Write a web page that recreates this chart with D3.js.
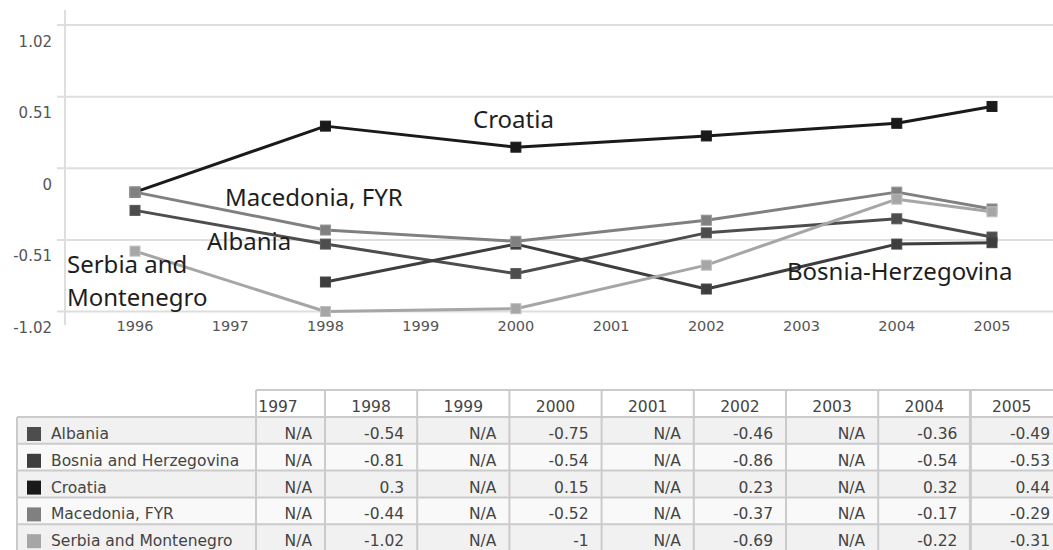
<!DOCTYPE html>
<html>
<head>
<meta charset="utf-8">
<script src="https://cdn.jsdelivr.net/npm/d3@7"></script>
<style>
  html, body { margin: 0; padding: 0; background: #fff; }
  svg { display: block; }
</style>
</head>
<body>
<svg id="chart" width="1053" height="550"></svg>
<script>
// ---- data ----
const years = [1996, 1997, 1998, 1999, 2000, 2001, 2002, 2003, 2004, 2005];
const countries = ["Albania", "Bosnia and Herzegovina", "Croatia", "Macedonia, FYR", "Serbia and Montenegro"];
const albania   = [-0.30, null, -0.54, null, -0.75, null, -0.46, null, -0.36, -0.49];
const bosnia    = [null,  null, -0.81, null, -0.54, null, -0.86, null, -0.54, -0.53];
const croatia   = [-0.17, null,  0.30, null,  0.15, null,  0.23, null,  0.32,  0.44];
const macedonia = [-0.17, null, -0.44, null, -0.52, null, -0.37, null, -0.17, -0.29];
const serbia    = [-0.59, null, -1.02, null, -1.00, null, -0.69, null, -0.22, -0.31];
const yTicks = [1.02, 0.51, 0, -0.51, -1.02];
const tableYears = years.slice(1);
const seriesValues = [albania, bosnia, croatia, macedonia, serbia];
const seriesColors = ["#4d4d4d", "#3e3e3e", "#1a1a1a", "#808080", "#a6a6a6"];
const lineLabels = ["Albania", "Bosnia-Herzegovina", "Croatia", "Macedonia, FYR", ["Serbia and", "Montenegro"]];

// ---- layout ----
const svg = d3.select("#chart");
const x = d3.scalePoint().domain(years).range([135, 992]);
const y = d3.scaleLinear().domain([-1.02, 1.02]).range([311.5, 25]);
const axisFont = "'DejaVu Sans', Verdana, sans-serif";
const labelFont = "'Noto Sans', 'Open Sans', sans-serif";

// horizontal gridlines
svg.append("g").selectAll("line").data(yTicks).join("line")
  .attr("x1", 57).attr("x2", 1053)
  .attr("y1", d => y(d)).attr("y2", d => y(d))
  .attr("stroke", "#dedede").attr("stroke-width", 2);

// vertical axis line
svg.append("line")
  .attr("x1", 65).attr("x2", 65).attr("y1", 10).attr("y2", 325)
  .attr("stroke", "#dedede").attr("stroke-width", 2);

// y tick labels (sit just below their gridline)
svg.append("g").selectAll("text").data(yTicks).join("text")
  .attr("x", 52).attr("y", d => y(d) + 17)
  .attr("text-anchor", "end").attr("dominant-baseline", "middle")
  .attr("font-family", axisFont).attr("font-size", 15).attr("fill", "#555")
  .text(d => String(d));

// x tick labels
svg.append("g").selectAll("text").data(years).join("text")
  .attr("x", d => x(d)).attr("y", 327)
  .attr("text-anchor", "middle").attr("dominant-baseline", "middle")
  .attr("font-family", axisFont).attr("font-size", 14.5).attr("fill", "#555")
  .text(d => d);

// series lines and markers
const series = countries.map((name, i) => ({
  name, color: seriesColors[i],
  points: years.map((yr, j) => ({ yr, v: seriesValues[i][j] })).filter(p => p.v !== null)
}));

const line = d3.line().x(p => x(p.yr)).y(p => y(p.v));

const g = svg.append("g");
series.forEach(s => {
  g.append("path").datum(s.points)
    .attr("d", line).attr("fill", "none")
    .attr("stroke", s.color).attr("stroke-width", 3)
    .attr("stroke-linejoin", "round");
  g.append("g").selectAll("rect").data(s.points).join("rect")
    .attr("x", p => x(p.yr) - 5).attr("y", p => y(p.v) - 5)
    .attr("width", 10).attr("height", 10)
    .attr("fill", s.color)
    .attr("stroke", d3.color(s.color).brighter(0.4)).attr("stroke-width", 1);
});

// series name labels placed near their lines
const labelSpots = [
  { i: 0, x: 207, y: 250 },
  { i: 1, x: 787, y: 280 },
  { i: 2, x: 473, y: 128 },
  { i: 3, x: 225, y: 206 },
  { i: 4, x: 67,  y: 273 }
];
const lg = svg.append("g").attr("font-family", labelFont).attr("font-size", 24).attr("fill", "#1e1e1e");
labelSpots.forEach(sp => {
  const txt = lineLabels[sp.i];
  const lines = Array.isArray(txt) ? txt : [txt];
  const t = lg.append("text").attr("x", sp.x).attr("y", sp.y);
  lines.forEach((l, k) => {
    t.append("tspan").attr("x", sp.x).attr("dy", k === 0 ? 0 : 33).text(l);
  });
});

// ---- data table ----
const tableTop = 390, headerH = 27, rowH = 26.8;
const nameLeft = 17, nameRight = 256;
const colLeft = i => i === 0 ? 256 : 325 + (i - 1) * 92.2;
const colRight = i => i === tableYears.length - 1 ? 1053 : colLeft(i + 1);
const tableFont = "'DejaVu Sans', Verdana, sans-serif";
const border = "#cbcbcb";
const tg = svg.append("g");
const rowsTop = tableTop + headerH;
const tableBottom = rowsTop + rowH * countries.length;

// row backgrounds
tg.append("g").selectAll("rect").data(countries).join("rect")
  .attr("x", nameLeft).attr("y", (d, i) => rowsTop + i * rowH)
  .attr("width", 1053 - nameLeft).attr("height", rowH)
  .attr("fill", (d, i) => i % 2 === 0 ? "#f1f1f1" : "#f9f9f9");

// horizontal borders
tg.append("line").attr("x1", nameRight).attr("x2", 1053)
  .attr("y1", tableTop).attr("y2", tableTop).attr("stroke", border).attr("stroke-width", 2);
tg.append("g").selectAll("line").data(d3.range(countries.length + 1)).join("line")
  .attr("x1", nameLeft).attr("x2", 1053)
  .attr("y1", k => rowsTop + k * rowH).attr("y2", k => rowsTop + k * rowH)
  .attr("stroke", border).attr("stroke-width", 2);

// vertical borders
tg.append("line").attr("x1", nameLeft).attr("x2", nameLeft)
  .attr("y1", rowsTop).attr("y2", tableBottom).attr("stroke", border).attr("stroke-width", 2);
tg.append("g").selectAll("line").data(tableYears).join("line")
  .attr("x1", (d, i) => colLeft(i)).attr("x2", (d, i) => colLeft(i))
  .attr("y1", tableTop).attr("y2", tableBottom)
  .attr("stroke", border).attr("stroke-width", (d, i) => i === tableYears.length - 1 ? 3 : 2);

// header labels
tg.append("g").selectAll("text").data(tableYears).join("text")
  .attr("x", (d, i) => i === 0 ? 278 : (colLeft(i) + colRight(i)) / 2)
  .attr("y", tableTop + 21.5)
  .attr("text-anchor", "middle")
  .attr("font-family", tableFont).attr("font-size", 15.5).attr("fill", "#444")
  .text(d => d);

// legend swatches and names
tg.append("g").selectAll("rect").data(countries).join("rect")
  .attr("x", 27).attr("y", (d, i) => rowsTop + i * rowH + 10)
  .attr("width", 14).attr("height", 14)
  .attr("fill", (d, i) => seriesColors[i]);
tg.append("g").selectAll("text").data(countries).join("text")
  .attr("x", 51).attr("y", (d, i) => rowsTop + i * rowH + 22)
  .attr("font-family", tableFont).attr("font-size", 15.5).attr("fill", "#444")
  .text(d => d);

// value cells
countries.forEach((c, r) => {
  tg.append("g").selectAll("text").data(tableYears).join("text")
    .attr("x", (d, i) => colRight(i) - (i === tableYears.length - 1 ? 3 : 13))
    .attr("y", rowsTop + r * rowH + 22)
    .attr("text-anchor", "end")
    .attr("font-family", tableFont).attr("font-size", 15.5).attr("fill", "#444")
    .text(d => {
      const v = seriesValues[r][years.indexOf(d)];
      return v === null ? "N/A" : String(v);
    });
});
</script>
</body>
</html>
